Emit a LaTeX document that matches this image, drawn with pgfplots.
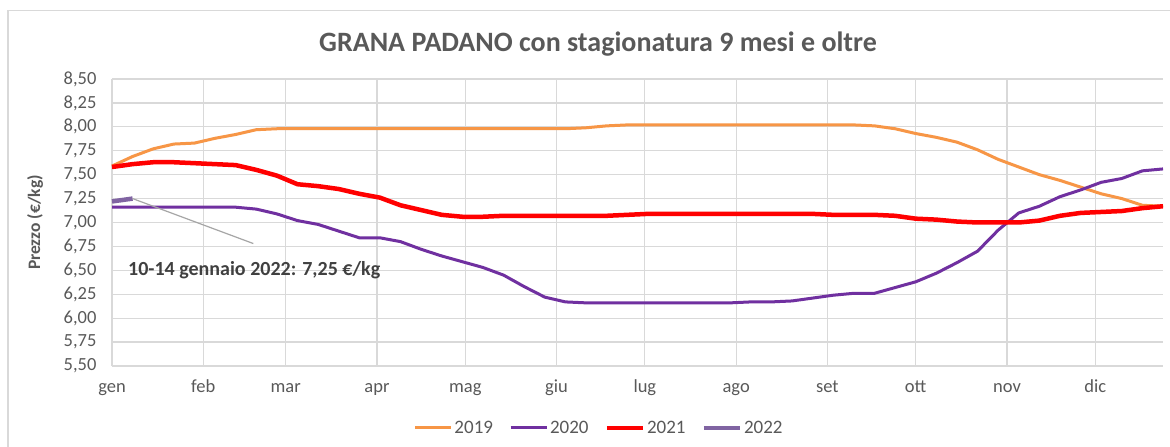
\documentclass[border=0pt]{standalone}
\usepackage{pgfplots}
\pgfplotsset{compat=1.18}
\usepackage{fontspec}
\setmainfont{Carlito}
\definecolor{c2019}{HTML}{F79646}
\definecolor{c2020}{HTML}{7030A0}
\definecolor{c2021}{HTML}{FF0000}
\definecolor{c2022}{HTML}{8064A2}
\definecolor{txt}{HTML}{595959}
\definecolor{ann}{HTML}{404040}
\definecolor{gridc}{HTML}{D9D9D9}
\definecolor{annline}{HTML}{A6A6A6}

\begin{document}
\begin{tikzpicture}
\useasboundingbox (0,0) rectangle (1170pt,447pt);
\fill[white] (0,0) rectangle (1170pt,447pt);
\draw[gridc, line width=1.2pt] (8pt,-5pt) -- (8pt,436.5pt) -- (1180pt,436.5pt);
\node[font=\fontsize{28}{32}\selectfont\bfseries, text=txt] at (598pt,403pt) {GRANA PADANO con stagionatura 9 mesi e oltre};
\begin{axis}[
  at={(112pt,81pt)}, anchor=south west,
  scale only axis, width=1051pt, height=287pt,
  xmin=0, xmax=357, ymin=5.5, ymax=8.5,
  clip=false,
  axis line style={draw=none},
  xtick={0,31,59,90,120,151,181,212,243,273,304,334},
  xticklabels={gen,feb,mar,apr,mag,giu,lug,ago,set,ott,nov,dic},
  ytick={5.5,5.75,6,6.25,6.5,6.75,7,7.25,7.5,7.75,8,8.25,8.5},
  yticklabels={{5,50},{5,75},{6,00},{6,25},{6,50},{6,75},{7,00},{7,25},{7,50},{7,75},{8,00},{8,25},{8,50}},
  xmajorgrids, ymajorgrids,
  grid style={gridc, line width=1.2pt},
  tick style={draw=none},
  ticklabel style={font=\fontsize{18.5}{20}\selectfont, text=txt},
  yticklabel style={anchor=east, xshift=-12pt},
  xticklabel style={anchor=base, yshift=-26pt},
  ylabel={Prezzo (€/kg)},
  every axis y label/.style={at={(axis description cs:0,0.5)}, xshift=-77pt, rotate=90, anchor=center},
  ylabel style={font=\fontsize{17.5}{20}\selectfont\bfseries, text=txt},
  legend columns=4,
  legend style={at={(0.4634,-0.216)}, anchor=center, draw=none, fill=none,
    font=\fontsize{19}{21}\selectfont, text=txt,
    nodes={font=\fontsize{19}{21}\selectfont},
    /tikz/every even column/.append style={column sep=14pt}},
  legend image code/.code={\draw[#1] (0pt,0pt) -- (36pt,0pt);},
]
\addplot[c2019, line width=3pt, line join=round] table {
x y
0 7.59
7 7.69
14 7.77
21 7.82
28 7.83
35 7.88
42 7.92
49 7.97
56 7.98
63 7.98
70 7.98
77 7.98
84 7.98
91 7.98
98 7.98
105 7.98
112 7.98
119 7.98
126 7.98
133 7.98
140 7.98
147 7.98
154 7.98
161 7.99
168 8.01
175 8.02
182 8.02
189 8.02
196 8.02
203 8.02
210 8.02
217 8.02
224 8.02
231 8.02
238 8.02
245 8.02
252 8.02
259 8.01
266 7.98
273 7.93
280 7.89
287 7.84
294 7.76
301 7.66
308 7.58
315 7.50
322 7.44
329 7.37
336 7.30
343 7.25
350 7.18
357 7.17
};
\addlegendentry{2019}
\addplot[c2020, line width=3pt, line join=round] table {
x y
0 7.16
7 7.16
14 7.16
21 7.16
28 7.16
35 7.16
42 7.16
49 7.14
56 7.09
63 7.02
70 6.98
77 6.91
84 6.84
91 6.84
98 6.80
105 6.72
112 6.65
119 6.59
126 6.53
133 6.45
140 6.33
147 6.22
154 6.17
161 6.16
168 6.16
175 6.16
182 6.16
189 6.16
196 6.16
203 6.16
210 6.16
217 6.17
224 6.17
231 6.18
238 6.21
245 6.24
252 6.26
259 6.26
266 6.32
273 6.38
280 6.47
287 6.58
294 6.70
301 6.92
308 7.10
315 7.17
322 7.27
329 7.34
336 7.42
343 7.46
350 7.54
357 7.56
};
\addlegendentry{2020}
\addplot[c2021, line width=4.5pt, line join=round] table {
x y
0 7.58
7 7.61
14 7.63
21 7.63
28 7.62
35 7.61
42 7.60
49 7.55
56 7.49
63 7.40
70 7.38
77 7.35
84 7.30
91 7.26
98 7.18
105 7.13
112 7.08
119 7.06
126 7.06
133 7.07
140 7.07
147 7.07
154 7.07
161 7.07
168 7.07
175 7.08
182 7.09
189 7.09
196 7.09
203 7.09
210 7.09
217 7.09
224 7.09
231 7.09
238 7.09
245 7.08
252 7.08
259 7.08
266 7.07
273 7.04
280 7.03
287 7.01
294 7.00
301 7.00
308 7.00
315 7.02
322 7.07
329 7.10
336 7.11
343 7.12
350 7.15
357 7.17
};
\addlegendentry{2021}
\addplot[c2022, line width=4.5pt, line join=round] table {
x y
0 7.22
7 7.25
};
\addlegendentry{2022}
\draw[annline, line width=1.2pt] (axis cs:7,7.25) -- (axis cs:48,6.78);
\node[font=\fontsize{20}{22}\selectfont\bfseries, text=ann] at (axis cs:48.3,6.5) {10-14 gennaio 2022: 7,25 €/kg};
\end{axis}
\end{tikzpicture}
\end{document}
